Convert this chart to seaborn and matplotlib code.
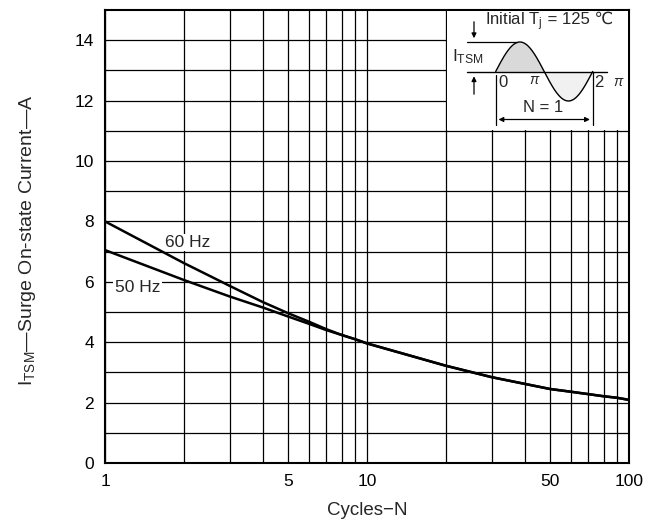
import numpy as np
import matplotlib
matplotlib.use('Agg')
import matplotlib.pyplot as plt
from matplotlib.ticker import FixedLocator, NullFormatter
import pandas as pd
import seaborn as sns

# values
cycles = [1, 2, 3, 4, 5, 6, 7, 8, 9, 10, 20, 30, 40, 50, 60, 70, 80, 90, 100]
current_60hz = [8.0, 6.62, 5.86, 5.33, 4.96, 4.68, 4.43, 4.24, 4.10, 3.96,
                3.22, 2.84, 2.62, 2.45, 2.36, 2.28, 2.21, 2.16, 2.09]
current_50hz = [7.05, 6.06, 5.51, 5.15, 4.85, 4.61, 4.40, 4.24, 4.10, 3.96,
                3.22, 2.84, 2.62, 2.45, 2.36, 2.28, 2.21, 2.16, 2.09]
x_major = [1, 5, 10, 50, 100]
x_minor = [2, 3, 4, 6, 7, 8, 9, 20, 30, 40, 60, 70, 80, 90]
y_major = [0, 2, 4, 6, 8, 10, 12, 14]
y_minor = [1, 3, 5, 7, 9, 11, 13]

sns.set_style('white')
plt.rcParams['font.family'] = ['Liberation Sans', 'DejaVu Sans']
plt.rcParams['mathtext.fontset'] = 'custom'
plt.rcParams['mathtext.rm'] = 'Liberation Sans'
plt.rcParams['mathtext.it'] = 'Liberation Sans:italic'

df = pd.DataFrame({
    'N': cycles * 2,
    'I': current_60hz + current_50hz,
    'freq': ['60 Hz'] * len(cycles) + ['50 Hz'] * len(cycles),
})

W, H = 662, 527
fig = plt.figure(figsize=(W / 100, H / 100), dpi=100)
# axes box in pixels: x 105..629, y 10..463
ax = fig.add_axes([105 / W, 1 - 463 / H, 524 / W, 453 / H])

sns.lineplot(data=df, x='N', y='I', hue='freq', palette=['black', 'black'],
             linewidth=1.8, legend=False, ax=ax, zorder=3)

ax.set_xscale('log')
ax.set_xlim(1, 100)
ax.set_ylim(0, 15)
ax.xaxis.set_major_locator(FixedLocator(x_major))
ax.xaxis.set_minor_locator(FixedLocator(x_minor))
ax.set_xticklabels([str(v) for v in x_major])
ax.xaxis.set_minor_formatter(NullFormatter())
ax.yaxis.set_major_locator(FixedLocator(y_major))
ax.yaxis.set_minor_locator(FixedLocator(y_minor))
ax.set_yticklabels([str(v) for v in y_major])
ax.grid(True, which='both', color='black', linewidth=0.9)
ax.tick_params(which='both', length=0, labelsize=12.5, pad=8, colors='black')
for s in ax.spines.values():
    s.set_color('black')
    s.set_linewidth(1.5)

ax.set_xlabel('Cycles\u2212N', fontsize=13.5)
ax.xaxis.set_label_coords(0.5, -0.085)
ax.set_ylabel(r'$\mathregular{I_{TSM}}$' + '\u2014Surge On-state Current\u2014A', fontsize=14)
ax.yaxis.set_label_coords(-0.128, 0.492)

ax.text(1.70, 7.3, '60 Hz', fontsize=12.5, va='center', ha='left', zorder=4,
        bbox=dict(facecolor='white', edgecolor='none', pad=1))
ax.text(1.09, 5.8, '50 Hz', fontsize=12.5, va='center', ha='left', zorder=4,
        bbox=dict(facecolor='white', edgecolor='none', pad=1))

# inset waveform sketch, drawn in pixel coordinates
x0, x1, y0, y1 = 447, 628, 11, 130
ins = fig.add_axes([x0 / W, 1 - y1 / H, (x1 - x0) / W, (y1 - y0) / H], zorder=5)
ins.set_facecolor('white')
ins.set_xlim(x0, x1)
ins.set_ylim(y1, y0)
ins.set_xticks([])
ins.set_yticks([])
for s in ins.spines.values():
    s.set_visible(False)

base = 71.5
start, period, amp = 495.7, 97.0, 29.5
t = np.linspace(0, 2 * np.pi, 200)
wx = start + t / (2 * np.pi) * period
wy = base - amp * np.sin(t)
ins.fill_between(wx[t <= np.pi], wy[t <= np.pi], base, color='#d9d9d9', lw=0)
ins.fill_between(wx[t >= np.pi], wy[t >= np.pi], base, color='#f1f1f1', lw=0)
ins.plot(wx, wy, color='black', lw=1.0)
ins.plot([467, 607], [base, base], color='black', lw=1.0)
ins.plot([467, 517], [base - amp, base - amp], color='black', lw=0.9)
ins.plot([start, start], [base + 3, 125], color='black', lw=0.9)
ins.plot([start + period, start + period], [base, 125], color='black', lw=0.9)
ins.annotate('', xy=(474, base - amp - 1), xytext=(474, 19),
             arrowprops=dict(arrowstyle='-|>', color='black', lw=0.9, mutation_scale=7))
ins.annotate('', xy=(474, base + 2), xytext=(474, 97),
             arrowprops=dict(arrowstyle='-|>', color='black', lw=0.9, mutation_scale=7))
ins.annotate('', xy=(start, 119.5), xytext=(start + period, 119.5),
             arrowprops=dict(arrowstyle='<|-|>', color='black', lw=0.9, mutation_scale=7))

title = ins.text(485, 22, r'Initial T$\mathregular{_j}$', fontsize=12,
                 ha='left', va='center')
ins.annotate(' = 125 \u2103', xy=(1, 0.62), xycoords=title, fontsize=12,
             ha='left', va='center', family=['Liberation Sans', 'DejaVu Sans'])
ins.text(452, 57, r'$\mathregular{I_{TSM}}$', fontsize=12.5, ha='left', va='center')
ins.text(503, 82.5, '0', fontsize=12, ha='center', va='center')
ins.text(535, 80, r'$\pi$', fontsize=10, ha='center', va='center')
ins.text(599, 82.5, '2', fontsize=12, ha='center', va='center')
ins.text(619, 82, r'$\pi$', fontsize=10, ha='center', va='center')
ins.text(543, 107.5, 'N = 1', fontsize=12, ha='center', va='center')

fig.savefig('out.png', dpi=100)
